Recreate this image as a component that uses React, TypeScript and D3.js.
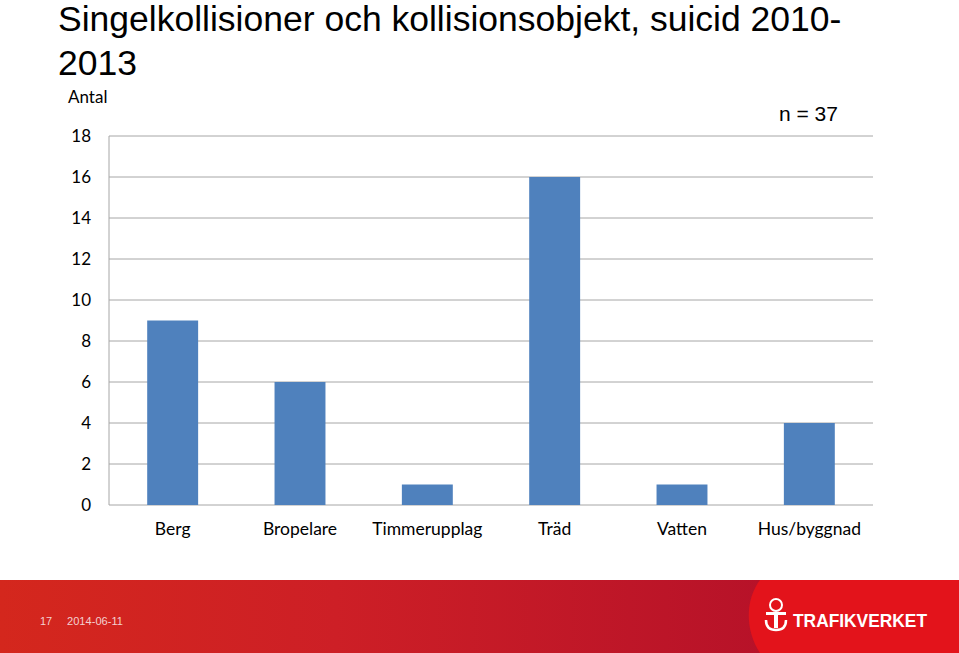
import React from "react";
import * as d3 from "d3";

const categories = ["Berg", "Bropelare", "Timmerupplag", "Träd", "Vatten", "Hus/byggnad"];
const values = [9, 6, 1, 16, 1, 4];
const yTicks = [0, 2, 4, 6, 8, 10, 12, 14, 16, 18];
const titleLines = ["Singelkollisioner och kollisionsobjekt, suicid 2010-", "2013"];

export default function App() {
  const W = 959, H = 653;
  const left = 109, right = 873, top = 136, bottom = 505;
  const x = d3.scaleBand<string>().domain(categories).range([left, right]).paddingInner(0.6).paddingOuter(0.3);
  const y = d3.scaleLinear().domain([0, 18]).range([bottom, top]);
  const bodyFont = "Lato, 'Open Sans', sans-serif";
  return (
    <svg width={W} height={H} style={{ position: "absolute", left: 0, top: 0, background: "#fff" }}>
      <defs>
        <linearGradient id="band" x1="0" x2="1" y1="0" y2="0">
          <stop offset="0" stopColor="#d4271d" />
          <stop offset="0.35" stopColor="#cd1f26" />
          <stop offset="1" stopColor="#ad0c2a" />
        </linearGradient>
      </defs>
      {titleLines.map((t, i) => (
        <text key={i} x={58} y={31 + i * 44} fontFamily="'Liberation Sans', Arial, sans-serif" fontSize={35.5} fill="#000">{t}</text>
      ))}
      <text x={68} y={103} fontFamily={bodyFont} fontSize={17} fill="#000">Antal</text>
      <text x={779} y={121} fontFamily="'Liberation Sans', Arial, sans-serif" fontSize={21} fill="#000">n = 37</text>
      {yTicks.map((t) => (
        <g key={t}>
          <line x1={left} x2={right} y1={y(t)} y2={y(t)} stroke="#a6a6a6" strokeWidth={1} />
          <text x={91} y={y(t) + 6} textAnchor="end" fontFamily={bodyFont} fontSize={17} fill="#000">{t}</text>
        </g>
      ))}
      <line x1={left} x2={left} y1={top} y2={bottom} stroke="#a6a6a6" strokeWidth={1} />
      {categories.map((c, i) => (
        <g key={c}>
          <rect x={x(c)} y={y(values[i])} width={x.bandwidth()} height={bottom - y(values[i])} fill="#4f81bd" />
          <text x={(x(c) as number) + x.bandwidth() / 2} y={535} textAnchor="middle" fontFamily={bodyFont} fontSize={17.5} fill="#000">{c}</text>
        </g>
      ))}
      <rect x={0} y={580} width={W} height={73} fill="url(#band)" />
      <path d={`M760,580 L${W},580 L${W},653 L760,653 C745,630 745,600 760,580 Z`} fill="#e3131b" />
      <text x={40} y={625} fontFamily="'Liberation Sans', Arial, sans-serif" fontSize={11} fill="#f3d0d0">17</text>
      <text x={67} y={625} fontFamily="'Liberation Sans', Arial, sans-serif" fontSize={11} fill="#f3d0d0" textLength={56} lengthAdjust="spacingAndGlyphs">2014-06-11</text>
      <g fill="#fff">
        <circle cx={776} cy={605} r={6} fill="none" stroke="#fff" strokeWidth={2} />
        <rect x={766} y={612} width={20} height={3} />
        <rect x={774} y={612} width={4} height={16} />
        <path d="M766,620 Q766,630 776,630 Q786,630 786,620" fill="none" stroke="#fff" strokeWidth={2.5} />
      </g>
      <text x={793} y={627} fontFamily="'Liberation Sans', Arial, sans-serif" fontWeight="bold" fontSize={19} fill="#fff" textLength={134} lengthAdjust="spacingAndGlyphs">TRAFIKVERKET</text>
    </svg>
  );
}
